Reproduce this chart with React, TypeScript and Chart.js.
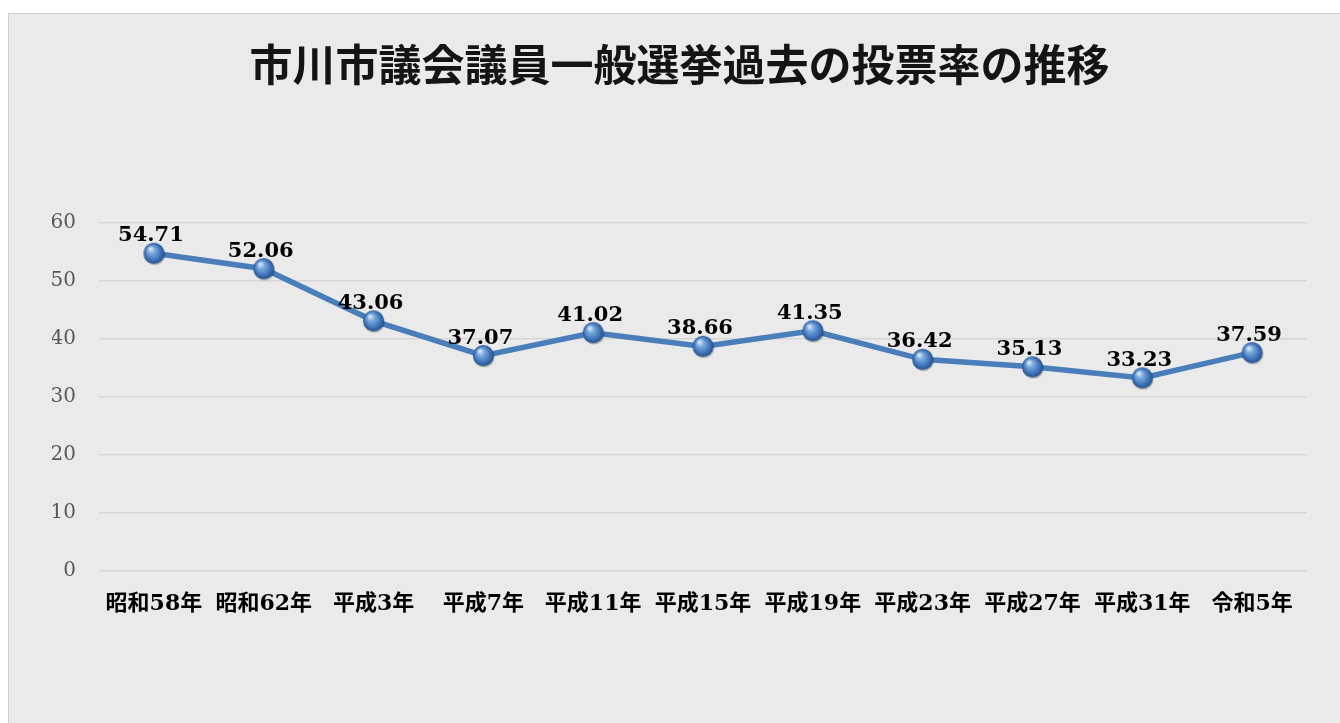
import React, { useEffect, useRef } from "react";
import { Chart, registerables } from "chart.js";

Chart.register(...registerables);

const chartTitle = "市川市議会議員一般選挙過去の投票率の推移";
const categories = [
  "昭和58年",
  "昭和62年",
  "平成3年",
  "平成7年",
  "平成11年",
  "平成15年",
  "平成19年",
  "平成23年",
  "平成27年",
  "平成31年",
  "令和5年",
];
const turnout = [54.71, 52.06, 43.06, 37.07, 41.02, 38.66, 41.35, 36.42, 35.13, 33.23, 37.59];
const yMin = 0;
const yMax = 60;
const yStep = 10;

function makeSphere(r: number): HTMLCanvasElement {
  const c = document.createElement("canvas");
  const s = r * 2 + 4;
  c.width = s;
  c.height = s;
  const ctx = c.getContext("2d")!;
  const cx = s / 2;
  const cy = s / 2;
  ctx.beginPath();
  ctx.arc(cx + 0.8, cy + 1.3, r, 0, Math.PI * 2);
  ctx.fillStyle = "rgba(0,0,0,0.25)";
  ctx.fill();
  const g = ctx.createRadialGradient(cx - r * 0.35, cy - r * 0.45, r * 0.08, cx, cy, r);
  g.addColorStop(0, "#d6e6f8");
  g.addColorStop(0.3, "#79a8de");
  g.addColorStop(0.75, "#3d72b6");
  g.addColorStop(1, "#23508c");
  ctx.beginPath();
  ctx.arc(cx, cy, r, 0, Math.PI * 2);
  ctx.fillStyle = g;
  ctx.fill();
  return c;
}

const valueLabelPlugin = {
  id: "valueLabels",
  afterDatasetsDraw(chart: any) {
    const ctx = chart.ctx;
    const meta = chart.getDatasetMeta(0);
    ctx.save();
    ctx.font = "bold 21px 'DejaVu Serif'";
    ctx.fillStyle = "#000000";
    ctx.textAlign = "center";
    ctx.textBaseline = "alphabetic";
    meta.data.forEach((pt: any, i: number) => {
      ctx.fillText(turnout[i].toFixed(2), pt.x - 3, pt.y - 12);
    });
    ctx.restore();
  },
};

export default function App() {
  const ref = useRef<HTMLCanvasElement | null>(null);

  useEffect(() => {
    if (!ref.current) return;
    const sphere = makeSphere(10.5);
    const chart = new Chart(ref.current, {
      type: "line",
      data: {
        labels: categories,
        datasets: [
          {
            data: turnout,
            borderColor: "#4a7ebb",
            borderWidth: 5.5,
            pointStyle: sphere as any,
            pointRadius: 10,
            pointHoverRadius: 10,
            tension: 0,
            fill: false,
          },
        ],
      },
      options: {
        animation: false,
        responsive: true,
        maintainAspectRatio: false,
        layout: { padding: { left: 43, right: 33, top: 0, bottom: 86 } },
        plugins: {
          legend: { display: false },
          tooltip: { enabled: false },
          title: {
            display: true,
            text: chartTitle,
            color: "#141414",
            font: { family: "'Noto Sans CJK JP'", size: 43, weight: "bold" },
            padding: { top: 25, bottom: 132 },
          },
        },
        scales: {
          x: {
            offset: true,
            grid: { display: false, drawTicks: false },
            border: { display: false },
            ticks: {
              color: "#000000",
              padding: 20,
              maxRotation: 0,
              autoSkip: false,
              font: { family: "'DejaVu Serif', 'Noto Sans CJK JP'", size: 22, weight: "bold" },
            },
          },
          y: {
            min: yMin,
            max: yMax,
            grid: { color: "#d6d6d6", lineWidth: 1.5, drawTicks: false },
            border: { display: false },
            afterFit: (scale: any) => {
              scale.width = 47;
            },
            ticks: {
              stepSize: yStep,
              color: "#595959",
              padding: 23,
              font: { family: "'DejaVu Serif'", size: 20 },
            },
          },
        },
      },
      plugins: [valueLabelPlugin],
    });
    return () => chart.destroy();
  }, []);

  return (
    <div
      style={{
        position: "fixed",
        left: 8,
        top: 13,
        right: 0,
        bottom: 0,
        background: "#eaeaea",
        borderTop: "1px solid #d0d0d0",
        borderLeft: "1px solid #d0d0d0",
      }}
    >
      <canvas ref={ref} />
    </div>
  );
}
